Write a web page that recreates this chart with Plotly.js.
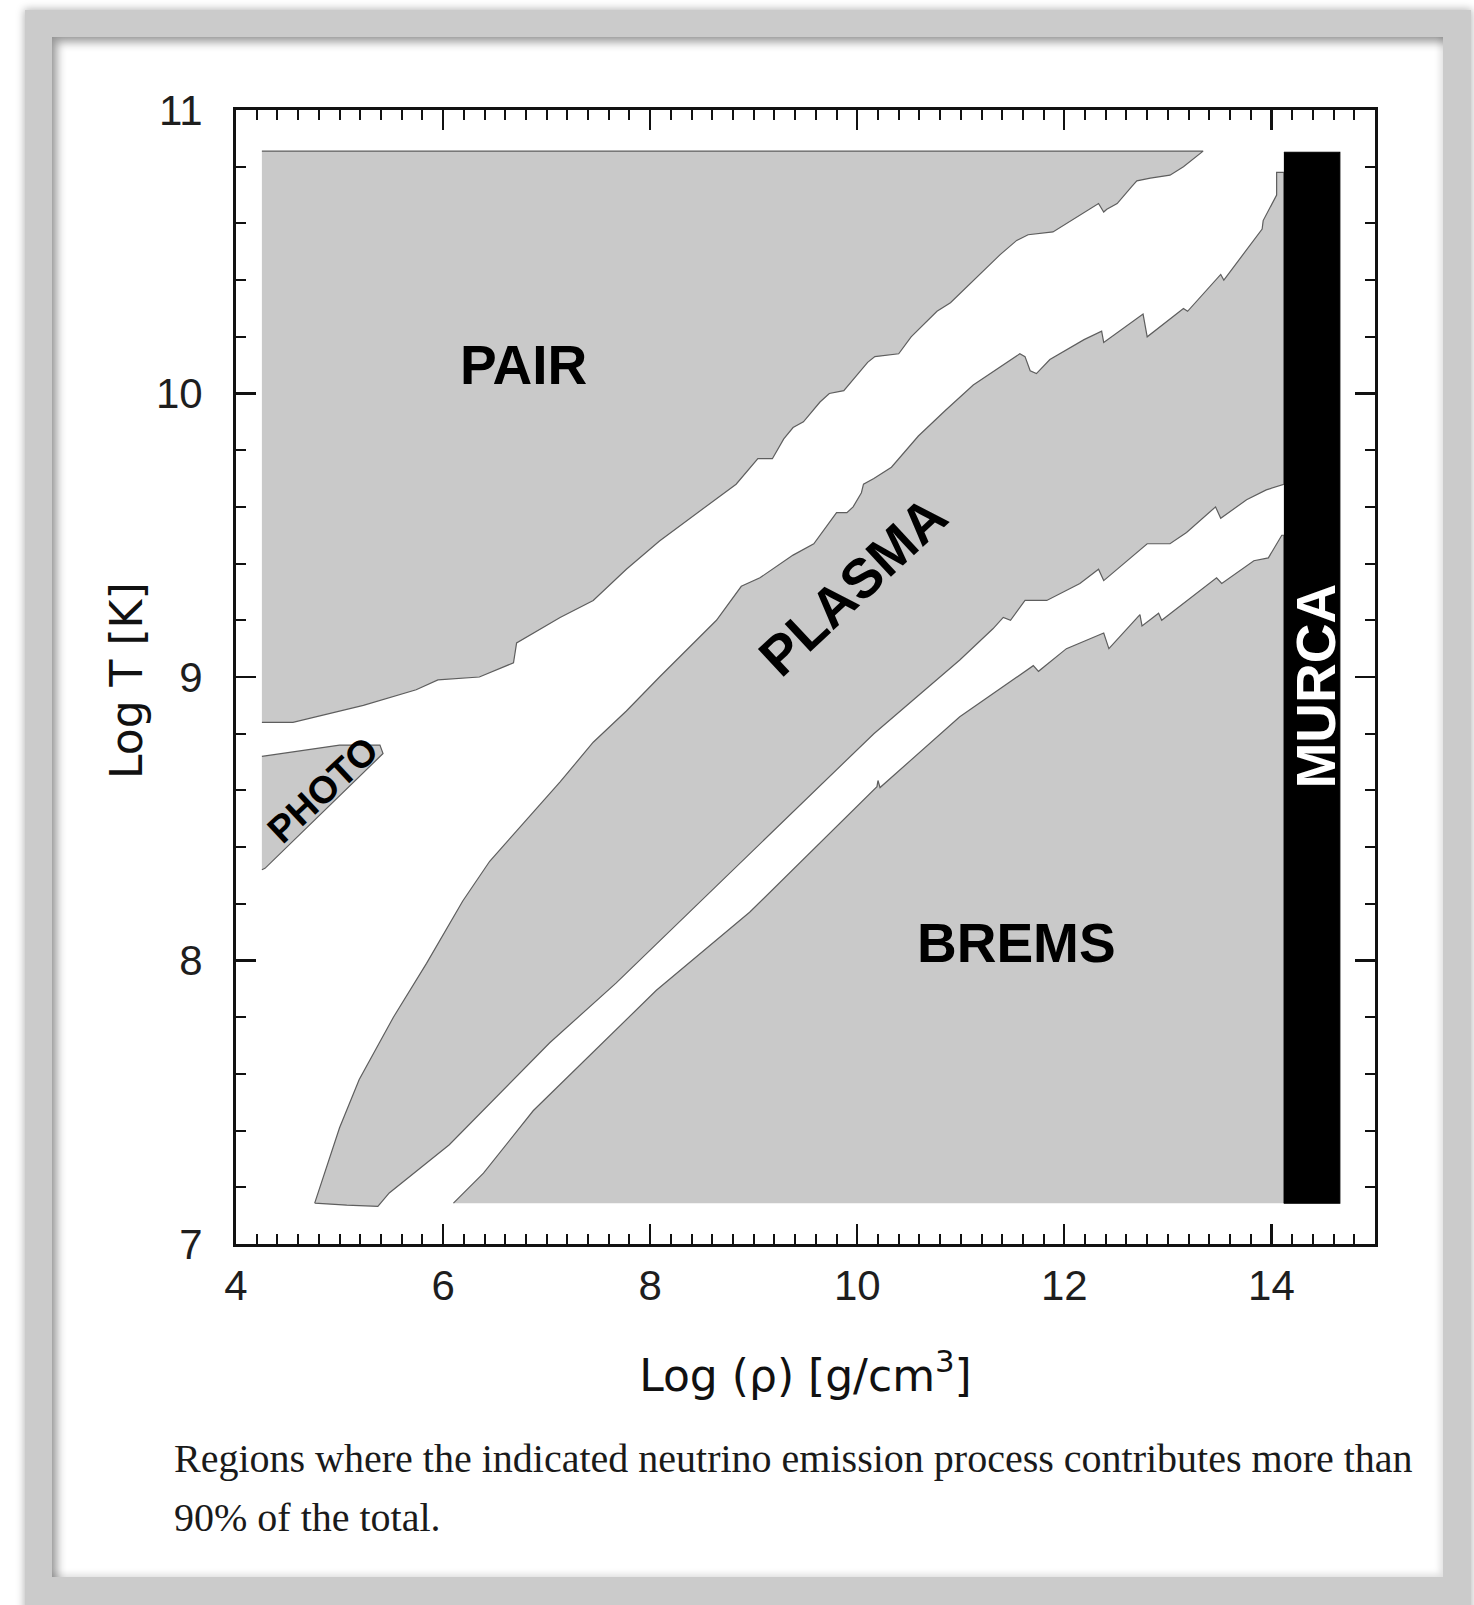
<!DOCTYPE html>
<html>
<head>
<meta charset="utf-8">
<script src="https://cdn.plot.ly/plotly-3.0.1.min.js"></script>
<style>
  html, body { margin: 0; padding: 0; background: #ffffff; }
  body { width: 1474px; height: 1605px; position: relative; overflow: hidden; }
  .frame {
    position: absolute; left: 25px; top: 10px; width: 1446px; height: 1610px;
    background: #cbcbcb;
    box-shadow: 0 0 8px 1px rgba(0,0,0,0.28);
  }
  .panel {
    position: absolute; left: 52px; top: 37px; width: 1391px; height: 1540px;
    background: #ffffff;
    box-shadow: inset 7px 7px 10px -2px rgba(0,0,0,0.40), inset -3px -3px 6px rgba(0,0,0,0.12);
  }
  #chart { position: absolute; left: 0; top: 0; width: 1474px; height: 1605px; z-index: 2; }
  .caption {
    position: absolute; left: 174px; top: 1429px; width: 1260px; z-index: 3;
    font-family: "Liberation Serif", "Times New Roman", serif;
    font-size: 40px; line-height: 59px; color: #1a1a1a;
  }
</style>
</head>
<body>
<div class="frame"></div>
<div class="panel"></div>
<div id="chart"></div>
<div class="caption">Regions where the indicated neutrino emission process contributes more than<br>90% of the total.</div>
<script>
// Boundaries of the regions (log density, log temperature) where one
// neutrino emission process supplies more than 90% of the total loss.
const pairRho = [4.25, 13.34, 13.15, 13.02, 12.83, 12.70, 12.65, 12.51, 12.41, 12.38, 12.33, 11.89, 11.65, 11.54,
  11.38, 11.15, 10.90, 10.77, 10.52, 10.40, 10.17, 10.10, 9.96, 9.87, 9.73, 9.64, 9.48, 9.38, 9.29, 9.18,
  9.04, 8.83, 8.09, 7.77, 7.45, 7.13, 6.71, 6.68, 6.35, 5.95, 5.74, 5.23, 4.55, 4.25];
const pairT = [10.855, 10.855, 10.80, 10.77, 10.76, 10.75, 10.73, 10.67, 10.65, 10.64, 10.67, 10.57, 10.56, 10.54,
  10.49, 10.41, 10.32, 10.29, 10.20, 10.14, 10.13, 10.11, 10.05, 10.01, 10.00, 9.97, 9.90, 9.88, 9.84, 9.77,
  9.77, 9.68, 9.48, 9.38, 9.27, 9.21, 9.12, 9.05, 9.00, 8.99, 8.955, 8.90, 8.84, 8.84];

const photoRho = [4.25, 5.00, 5.39, 5.42, 4.28, 4.25];
const photoT = [8.72, 8.76, 8.76, 8.73, 8.325, 8.32];

const plasmaRho = [4.76, 5.00, 5.19, 5.52, 5.84, 6.19, 6.45, 7.13, 7.45, 7.77, 8.09, 8.42, 8.64, 8.88, 9.06,
  9.38, 9.58, 9.80, 9.90, 9.96, 10.04, 10.06, 10.16, 10.33, 10.59, 10.85, 11.12, 11.57, 11.62, 11.67, 11.73,
  11.86, 12.19, 12.36, 12.38, 12.76, 12.80, 13.15, 13.19, 13.51, 13.54, 13.91, 13.92, 14.05, 14.05, 14.12,
  14.12, 13.95, 13.76, 13.51, 13.46, 13.18, 13.02, 12.80, 12.38, 12.33, 12.15, 11.83, 11.62, 11.48, 11.41,
  11.31, 10.99, 10.16, 7.67, 7.03, 6.06, 5.48, 5.37, 5.07, 4.76];
const plasmaT = [7.144, 7.41, 7.58, 7.80, 7.99, 8.21, 8.35, 8.63, 8.77, 8.88, 9.00, 9.12, 9.20, 9.32, 9.35,
  9.43, 9.47, 9.58, 9.58, 9.60, 9.65, 9.68, 9.70, 9.74, 9.85, 9.94, 10.03, 10.14, 10.13, 10.08, 10.07,
  10.12, 10.19, 10.22, 10.18, 10.28, 10.20, 10.30, 10.29, 10.42, 10.40, 10.58, 10.61, 10.70, 10.78, 10.78,
  9.68, 9.66, 9.625, 9.56, 9.60, 9.51, 9.47, 9.47, 9.34, 9.38, 9.33, 9.27, 9.27, 9.20, 9.21,
  9.17, 9.06, 8.80, 7.92, 7.71, 7.35, 7.18, 7.133, 7.137, 7.144];

const bremsRho = [6.10, 6.39, 6.87, 8.06, 8.96, 10.19, 10.20, 10.22, 10.99, 11.70, 11.75, 12.02, 12.38, 12.43,
  12.73, 12.75, 12.91, 12.94, 13.47, 13.52, 13.83, 13.97, 14.10, 14.12, 14.12];
const bremsT = [7.144, 7.25, 7.47, 7.895, 8.17, 8.613, 8.635, 8.61, 8.86, 9.04, 9.02, 9.10, 9.155, 9.10,
  9.22, 9.18, 9.225, 9.20, 9.35, 9.33, 9.41, 9.42, 9.50, 9.50, 7.144];

const murcaRho = [14.12, 14.66, 14.66, 14.12];
const murcaT = [7.144, 7.144, 10.851, 10.851];

const rhoTicks = [4, 6, 8, 10, 12, 14];
const tempTicks = [7, 8, 9, 10, 11];

function region(xs, ys, fill, edge) {
  return {
    type: 'scatter', mode: 'lines', x: xs, y: ys,
    fill: 'toself', fillcolor: fill,
    line: { color: edge, width: 1.2 },
    hoverinfo: 'skip', showlegend: false
  };
}

const data = [
  region(pairRho, pairT, '#c9c9c9', '#5e5e5e'),
  region(photoRho, photoT, '#c9c9c9', '#5e5e5e'),
  region(plasmaRho, plasmaT, '#c9c9c9', '#5e5e5e'),
  region(bremsRho, bremsT, '#c9c9c9', '#5e5e5e'),
  region(murcaRho, murcaT, '#000000', '#000000')
];

const tickFont = { family: 'Liberation Sans, Arial, sans-serif', size: 42, color: '#1e1e1e' };
const titleFont = { family: 'DejaVu Sans, Liberation Sans, sans-serif', size: 44, color: '#111111' };

function axis(range, ticks, minorStart) {
  return {
    range: range, tickmode: 'array', tickvals: ticks,
    ticks: 'inside', ticklen: 20, tickwidth: 2.2, tickcolor: '#111',
    showline: true, linewidth: 3, linecolor: '#111', mirror: 'ticks',
    showgrid: false, zeroline: false, fixedrange: true,
    tickfont: tickFont,
    minor: { ticks: 'inside', tick0: minorStart, dtick: 0.2, ticklen: 10, tickwidth: 2, tickcolor: '#111', showgrid: false }
  };
}

const xaxis = axis([4, 15], rhoTicks, 4);
xaxis.title = { text: 'Log (ρ) [g/cm<sup>3</sup>]', font: titleFont, standoff: 52 };
xaxis.ticklabelstandoff = 3;
const yaxis = axis([7, 11], tempTicks, 7);
yaxis.ticklabelstandoff = 22;

const labelFont = { family: 'Liberation Sans, Arial, sans-serif', size: 55, color: '#000000', weight: 'bold' };

const layout = {
  width: 1474, height: 1605,
  margin: { l: 236, r: 99, t: 110, b: 361, pad: 0 },
  paper_bgcolor: 'rgba(0,0,0,0)', plot_bgcolor: 'rgba(0,0,0,0)',
  xaxis: xaxis, yaxis: yaxis,
  showlegend: false,
  annotations: [
    // vertical axis title
    { xref: 'paper', yref: 'paper', x: 0, y: 0.5, xanchor: 'center', yanchor: 'middle',
      xshift: -110, yshift: -4,
      text: 'Log T [K]', textangle: -90, showarrow: false, font: titleFont },
    { x: 6.78, y: 10.10, text: 'PAIR', showarrow: false, font: labelFont },
    { x: 11.54, y: 8.06, text: 'BREMS', showarrow: false, font: labelFont },
    { x: 9.96, y: 9.32, text: 'PLASMA', showarrow: false, font: labelFont, textangle: -43 },
    { x: 4.84, y: 8.60, text: 'PHOTO', showarrow: false, textangle: -43,
      font: { family: 'Liberation Sans, Arial, sans-serif', size: 38, color: '#000000', weight: 'bold' } },
    { x: 14.43, y: 8.97, text: 'MURCA', showarrow: false, textangle: -90,
      font: { family: 'Liberation Sans, Arial, sans-serif', size: 55, color: '#ffffff', weight: 'bold' } }
  ]
};

Plotly.newPlot('chart', data, layout, { staticPlot: true, displayModeBar: false });
</script>
</body>
</html>
